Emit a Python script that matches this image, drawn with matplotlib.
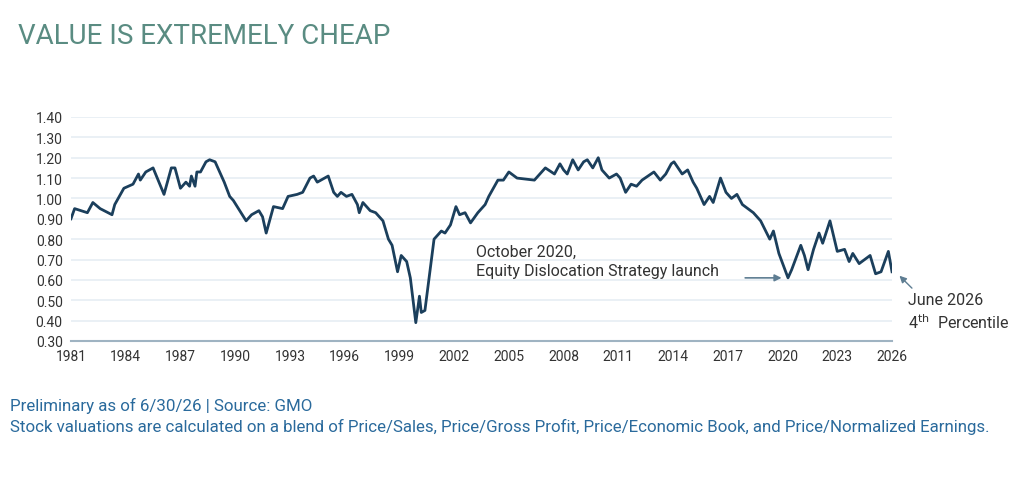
import matplotlib.pyplot as plt

plt.rcParams['font.family'] = ['Roboto', 'DejaVu Sans']

# Approximate relative valuation (value vs market)
years = [1981.0, 1981.2, 1981.9, 1982.2, 1982.6, 1983.25, 1983.4, 1983.9, 1984.4, 1984.7,
         1984.8, 1985.1, 1985.5, 1986.1, 1986.5, 1986.7, 1987.0, 1987.3, 1987.5, 1987.6,
         1987.8, 1987.9, 1988.1, 1988.4, 1988.6, 1988.9, 1989.2, 1989.4, 1989.7, 1989.9,
         1990.6, 1990.9, 1991.3, 1991.5, 1991.7, 1992.1, 1992.6, 1992.9, 1993.4, 1993.7,
         1994.1, 1994.3, 1994.5, 1995.1, 1995.4, 1995.6, 1995.8, 1996.1, 1996.4, 1996.7,
         1996.8, 1997.0, 1997.4, 1997.7, 1998.1, 1998.4, 1998.6, 1998.9, 1999.1, 1999.4,
         1999.6, 1999.9, 2000.1, 2000.2, 2000.4, 2000.7, 2000.9, 2001.3, 2001.5, 2001.8,
         2002.1, 2002.3, 2002.6, 2002.9, 2003.3, 2003.7, 2003.9, 2004.4, 2004.7, 2005.0,
         2005.45, 2006.4, 2007.0, 2007.5, 2007.8, 2008.0, 2008.2, 2008.5, 2008.8, 2009.1,
         2009.3, 2009.6, 2009.9, 2010.1, 2010.5, 2010.9, 2011.1, 2011.4, 2011.7, 2012.0,
         2012.3, 2012.95, 2013.3, 2013.6, 2013.9, 2014.05, 2014.5, 2014.8, 2015.1, 2015.3,
         2015.7, 2016.0, 2016.2, 2016.6, 2016.9, 2017.2, 2017.5, 2017.8, 2018.4, 2018.8,
         2019.3, 2019.5, 2019.8, 2020.3, 2020.5, 2021.0, 2021.2, 2021.4, 2021.7, 2022.0,
         2022.2, 2022.6, 2023.0, 2023.4, 2023.65, 2023.85, 2024.2, 2024.8, 2025.1, 2025.4,
         2025.8, 2026.0]
values = [0.90, 0.95, 0.93, 0.98, 0.95, 0.92, 0.97, 1.05, 1.07, 1.12,
          1.09, 1.13, 1.15, 1.02, 1.15, 1.15, 1.05, 1.08, 1.06, 1.11,
          1.06, 1.13, 1.13, 1.18, 1.19, 1.18, 1.12, 1.08, 1.01, 0.99,
          0.89, 0.92, 0.94, 0.91, 0.83, 0.96, 0.95, 1.01, 1.02, 1.03,
          1.10, 1.11, 1.08, 1.11, 1.03, 1.01, 1.03, 1.01, 1.02, 0.97,
          0.93, 0.98, 0.94, 0.93, 0.89, 0.80, 0.77, 0.64, 0.72, 0.69,
          0.61, 0.39, 0.52, 0.44, 0.45, 0.66, 0.80, 0.84, 0.83, 0.87,
          0.96, 0.92, 0.93, 0.88, 0.93, 0.97, 1.01, 1.09, 1.09, 1.13,
          1.10, 1.09, 1.15, 1.12, 1.17, 1.14, 1.12, 1.19, 1.14, 1.18,
          1.19, 1.15, 1.20, 1.14, 1.10, 1.12, 1.10, 1.03, 1.07, 1.06,
          1.09, 1.13, 1.09, 1.12, 1.17, 1.18, 1.12, 1.14, 1.08, 1.05,
          0.97, 1.01, 0.98, 1.10, 1.03, 1.00, 1.02, 0.97, 0.93, 0.89,
          0.80, 0.84, 0.73, 0.61, 0.65, 0.77, 0.72, 0.65, 0.75, 0.83,
          0.78, 0.89, 0.74, 0.75, 0.69, 0.73, 0.68, 0.72, 0.63, 0.64,
          0.74, 0.64]

xticks = list(range(1981, 2027, 3))
yticks = [0.30, 0.40, 0.50, 0.60, 0.70, 0.80, 0.90, 1.00, 1.10, 1.20, 1.30, 1.40]

line_color = '#1b3f5c'
text_color = '#333333'
note_color = '#2a6a9c'

fig = plt.figure(figsize=(10.24, 4.81), dpi=100)
ax = fig.add_axes([0.0693, 0.289, 0.8018, 0.4657])

ax.plot(years, values, color=line_color, lw=2.0)

ax.set_xlim(1981, 2026)
ax.set_ylim(0.30, 1.40)
ax.set_xticks(xticks)
ax.set_yticks(yticks)
ax.set_yticklabels([f'{v:.2f}' for v in yticks])
ax.grid(axis='y', color='#e6eef3', lw=1.2)
ax.set_axisbelow(True)
for s in ['top', 'right', 'left']:
    ax.spines[s].set_visible(False)
ax.spines['bottom'].set_color('#9fb3c2')
ax.spines['bottom'].set_linewidth(1.5)
ax.tick_params(length=0, labelsize=10, colors=text_color, pad=6)

ax.annotate('', xy=(2020.1, 0.61), xytext=(2017.8, 0.61),
            arrowprops=dict(arrowstyle='-|>', color='#5e7d92', lw=1.2))
ax.text(2003.2, 0.695, 'October 2020,\nEquity Dislocation Strategy launch',
        fontsize=11.5, color=text_color, va='center', linespacing=1.35)

ax.annotate('', xy=(2026.3, 0.63), xytext=(2027.2, 0.55),
            arrowprops=dict(arrowstyle='-|>', color='#5e7d92', lw=1.0),
            annotation_clip=False)
ax.text(2026.9, 0.445, 'June 2026\n4$^{\\mathrm{th}}$  Percentile', fontsize=11.5,
        color=text_color, va='center', linespacing=1.35)

fig.text(0.018, 0.925, 'VALUE IS EXTREMELY CHEAP', fontsize=20, color='#5a8c82',
         va='center')
fig.text(0.01, 0.155, 'Preliminary as of 6/30/26 | Source: GMO', fontsize=12.2,
         color=note_color, va='center')
fig.text(0.01, 0.113, 'Stock valuations are calculated on a blend of Price/Sales, '
         'Price/Gross Profit, Price/Economic Book, and Price/Normalized Earnings.',
         fontsize=12.2, color=note_color, va='center')

fig.savefig('out.png', dpi=100)
